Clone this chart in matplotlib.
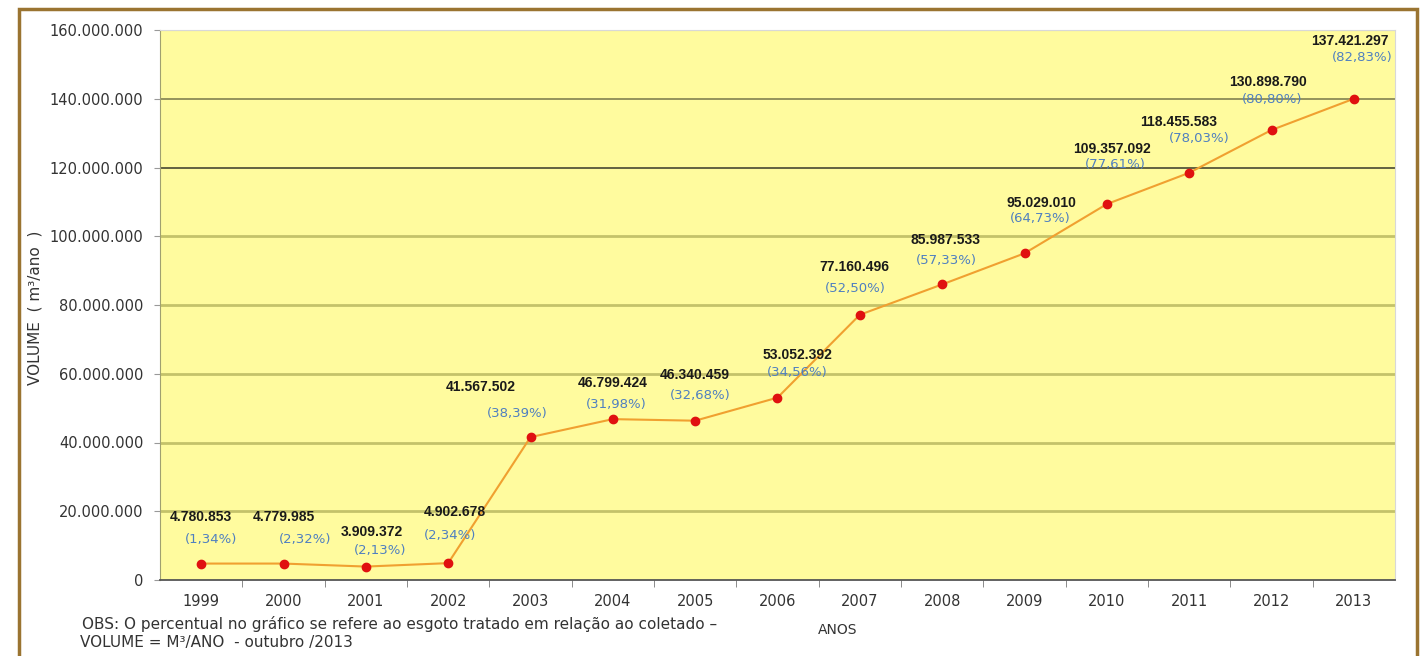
import matplotlib.pyplot as plt
from matplotlib.patches import Rectangle

plt.rcParams['font.family'] = ['Liberation Sans', 'DejaVu Sans']

anos = ['1999', '2000', '2001', '2002', '2003', '2004', '2005', '2006',
        '2007', '2008', '2009', '2010', '2011', '2012', '2013']
volume = [4780853, 4779985, 3909372, 4902678, 41567502, 46799424, 46340459,
          53052392, 77160496, 85987533, 95029010, 109357092, 118455583,
          130898790, 140000000]
rotulos = ['4.780.853', '4.779.985', '3.909.372', '4.902.678', '41.567.502',
           '46.799.424', '46.340.459', '53.052.392', '77.160.496', '85.987.533',
           '95.029.010', '109.357.092', '118.455.583', '130.898.790', '137.421.297']
percentuais = ['1,34%', '2,32%', '2,13%', '2,34%', '38,39%', '31,98%', '32,68%',
               '34,56%', '52,50%', '57,33%', '64,73%', '77,61%', '78,03%',
               '80,80%', '82,83%']
y_ticks = [0, 20000000, 40000000, 60000000, 80000000, 100000000,
           120000000, 140000000, 160000000]

# label offsets in pixels (value label, percent label)
off_val = [(0, 47), (0, 47), (6, 35), (7, 51), (-50, 50), (0, 36), (0, 46),
           (20, 43), (-5, 48), (3, 44), (17, 50), (5, 55), (-11, 51), (-3, 48), (-4, 58)]
off_pct = [(10, 24), (22, 24), (14, 16), (2, 28), (-13, 24), (3, 15), (5, 25),
           (20, 25), (-5, 26), (4, 24), (16, 35), (8, 40), (10, 34), (1, 31), (8, 41)]

wide = 'DejaVu Sans'
txt = '#333333'

fig = plt.figure(figsize=(14.21, 6.56), dpi=100)
fig.patches.append(Rectangle((19 / 1421, -0.05), 1398 / 1421, 1.05 - 9 / 656,
                             transform=fig.transFigure, fill=False,
                             edgecolor='#9a7431', linewidth=2.5))

ax = fig.add_axes([160 / 1421, 1 - 580 / 656, 1235 / 1421, 550 / 656])
ax.set_facecolor('#fffb9e')
x = list(range(len(anos)))

for v in y_ticks[1:]:
    if v == 120000000:
        ax.axhline(v, color='#55553a', lw=1.3, zorder=1)
    elif v == 140000000:
        ax.axhline(v, color='#77774a', lw=1.1, zorder=1)
    elif v == 160000000:
        ax.axhline(v, color='#c8c8a0', lw=1.5, zorder=1)
    else:
        ax.axhline(v, color='#c4c26a', lw=2, zorder=1)

ax.plot(x, volume, color='#f0a030', lw=1.5, zorder=2)
ax.scatter(x, volume, color='#e01010', s=36, zorder=3)

for i in x:
    ax.annotate(rotulos[i], (i, volume[i]), xytext=off_val[i], textcoords='offset pixels',
                ha='center', va='center', fontsize=10, fontweight='bold', color='#1a1a1a')
    ax.annotate('(' + percentuais[i] + ')', (i, volume[i]), xytext=off_pct[i],
                textcoords='offset pixels', ha='center', va='center', fontsize=9.5,
                color='#4f7fc0', family=wide)

ax.set_xlim(-0.5, len(anos) - 0.5)
ax.set_ylim(0, 160000000)
ax.set_yticks(y_ticks)
ax.set_yticklabels(['{:,}'.format(v).replace(',', '.') for v in y_ticks],
                   fontsize=10.5, family=wide, color=txt)
ax.set_xticks(x)
ax.set_xticklabels(anos, fontsize=10.5, family=wide, color=txt)
ax.set_xticks([i + 0.5 for i in x[:-1]], minor=True)
ax.tick_params(axis='x', which='major', length=0, pad=10)
ax.tick_params(axis='x', which='minor', length=5, color='#777777')
ax.tick_params(axis='y', length=4, color='#999999', pad=8)

for s in ['top', 'right']:
    ax.spines[s].set_color('#d8d8d8')
ax.spines['left'].set_color('#a0a070')
ax.spines['bottom'].set_color('#555555')
ax.spines['bottom'].set_linewidth(1.3)

fig.text(35 / 1421, 1 - 308 / 656, 'VOLUME  ( m³/ano  )', rotation=90,
         ha='center', va='center', fontsize=11, family=wide, color=txt)
fig.text(838 / 1421, 1 - 630 / 656, 'ANOS', ha='center', va='center',
         fontsize=10, family=wide, color=txt)
fig.text(82 / 1421, 1 - 624 / 656,
         'OBS: O percentual no gráfico se refere ao esgoto tratado em relação ao coletado –',
         ha='left', va='center', fontsize=11, family=wide, color=txt)
fig.text(80 / 1421, 1 - 643 / 656, 'VOLUME = M³/ANO  - outubro /2013',
         ha='left', va='center', fontsize=11, family=wide, color=txt)

fig.savefig('out.png', dpi=100)
